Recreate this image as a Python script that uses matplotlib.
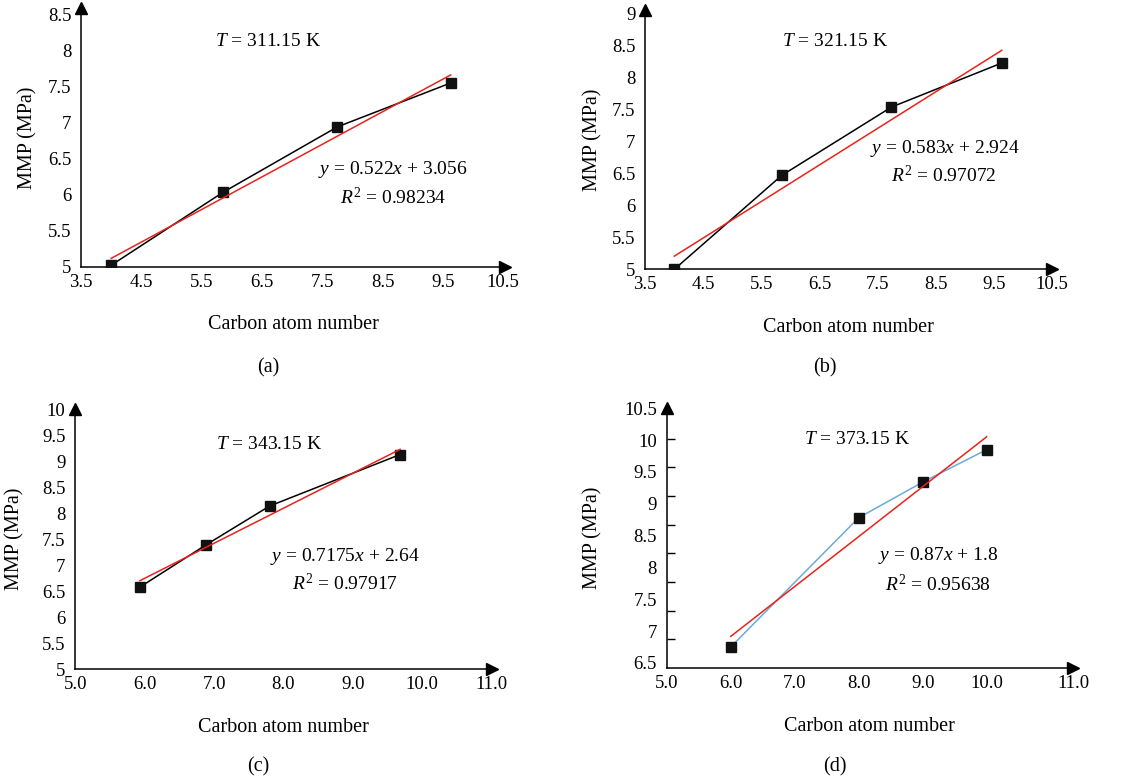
import numpy as np
import matplotlib
matplotlib.use("Agg")
import matplotlib.pyplot as plt

plt.rcParams['font.family'] = ['Liberation Serif', 'DejaVu Serif']
plt.rcParams['mathtext.fontset'] = 'custom'
plt.rcParams['mathtext.rm'] = 'Liberation Serif'
plt.rcParams['mathtext.it'] = 'Liberation Serif:italic'

# data
carbon_a = [4.0, 5.85, 7.75, 9.63]
mmp_a = [5.02, 6.03, 6.94, 7.55]
carbon_b = [4.0, 5.85, 7.74, 9.64]
mmp_b = [5.0, 6.47, 7.54, 8.23]
carbon_c = [5.93, 6.88, 7.80, 9.68]
mmp_c = [6.58, 7.39, 8.14, 9.13]
carbon_d = [6.0, 8.0, 9.0, 10.0]
mmp_d = [6.75, 8.78, 9.34, 9.85]

temps = ["311.15", "321.15", "343.15", "373.15"]
fit_eqs = ["0.522$x$ + 3.056", "0.583$x$ + 2.924", "0.7175$x$ + 2.64", "0.87$x$ + 1.8"]
r2_vals = ["0.98234", "0.97072", "0.97917", "0.95638"]
panel_tags = ["(a)", "(b)", "(c)", "(d)"]

xticks_ab = [3.5, 4.5, 5.5, 6.5, 7.5, 8.5, 9.5, 10.5]
xticks_cd = [5.0, 6.0, 7.0, 8.0, 9.0, 10.0, 11.0]
yticks_a = [5, 5.5, 6, 6.5, 7, 7.5, 8, 8.5]
yticks_b = [5, 5.5, 6, 6.5, 7, 7.5, 8, 8.5, 9]
yticks_c = [5, 5.5, 6, 6.5, 7, 7.5, 8, 8.5, 9, 9.5, 10]
yticks_d = [6.5, 7, 7.5, 8, 8.5, 9, 9.5, 10, 10.5]

W, H = 1143, 782
fig = plt.figure(figsize=(W / 100, H / 100), dpi=100)


def make_axes(left, top, right, bottom):
    return fig.add_axes([left / W, 1 - bottom / H, (right - left) / W, (bottom - top) / H])


panels = [
    dict(box=(81, 8, 505, 266.7), x=carbon_a, y=mmp_a, xlim=(3.5, 10.53), ylim=(5, 8.59),
         xt=xticks_ab, yt=yticks_a, line='black', T=(0.441, 0.869), eq=(0.736, 0.374), r2=(0.736, 0.269),
         ylab_x=-0.125, tag=(268, 368)),
    dict(box=(645.3, 10, 1051.7, 269.3), x=carbon_b, y=mmp_b, xlim=(3.5, 10.5), ylim=(5, 9.06),
         xt=xticks_ab, yt=yticks_b, line='black', T=(0.467, 0.878), eq=(0.737, 0.467), r2=(0.733, 0.36),
         ylab_x=-0.129, tag=(825, 368)),
    dict(box=(75.3, 409.3, 491.7, 669.3), x=carbon_c, y=mmp_c, xlim=(5, 10.95), ylim=(5, 9.97),
         xt=xticks_cd, yt=yticks_c, line='black', T=(0.466, 0.863), eq=(0.648, 0.433), r2=(0.648, 0.331),
         ylab_x=-0.145, tag=(258, 767)),
    dict(box=(666.7, 408.3, 1073, 668), x=carbon_d, y=mmp_d, xlim=(5, 11.35), ylim=(6.42, 10.47),
         xt=xticks_cd, yt=yticks_d, line='#6fa8dc', T=(0.469, 0.878), eq=(0.668, 0.432), r2=(0.668, 0.32),
         ylab_x=-0.181, tag=(835, 767)),
]

for i, p in enumerate(panels):
    ax = make_axes(*p['box'])
    x = np.array(p['x'])
    y = np.array(p['y'])

    # data line with square markers
    ax.plot(x, y, '-', color=p['line'], lw=1.1, zorder=3)
    ax.plot(x, y, 's', color='#111111', ms=6.5, zorder=4)

    # linear trend line
    k, b = np.polyfit(x, y, 1)
    xf = np.array([x[0], x[-1]])
    ax.plot(xf, k * xf + b, color='#e8231c', lw=1.1, zorder=5)

    ax.set_xlim(*p['xlim'])
    ax.set_ylim(*p['ylim'])

    # x ticks; panel (d) has its last label at the arrow tip
    xt = list(p['xt'])
    xlabels = ["%.1f" % v for v in xt]
    if i == 3:
        xt[-1] = p['xlim'][1]
    ax.set_xticks(xt)
    ax.set_xticklabels(xlabels)
    ax.set_yticks(p['yt'])
    ax.set_yticklabels(["%g" % v for v in p['yt']])
    ax.tick_params(axis='both', length=0, labelsize=13.5)
    ax.tick_params(axis='y', pad=7)
    ax.tick_params(axis='x', pad=5)

    if i == 3:
        lo, hi = p['ylim']
        ax.set_yticks(np.linspace(lo, hi, 10)[1:-1], minor=True)
        ax.tick_params(axis='y', which='minor', direction='in', length=6, width=1)

    for s in ['top', 'right']:
        ax.spines[s].set_visible(False)
    for s in ['left', 'bottom']:
        ax.spines[s].set_linewidth(1.1)

    # arrow heads on the axes
    ax.plot(1, 0, '>k', ms=8, transform=ax.transAxes, clip_on=False)
    ax.plot(0, 1, '^k', ms=8, transform=ax.transAxes, clip_on=False)

    ax.text(0.5, -0.225, "Carbon atom number", transform=ax.transAxes,
            ha='center', va='center', fontsize=14.5)
    ax.text(p['ylab_x'], 0.5, "MMP (MPa)", transform=ax.transAxes, rotation=90,
            ha='center', va='center', fontsize=14.5)

    ax.text(*p['T'], r"$T$ = %s K" % temps[i], transform=ax.transAxes,
            ha='center', va='center', fontsize=14)
    ax.text(*p['eq'], r"$y$ = " + fit_eqs[i], transform=ax.transAxes,
            ha='center', va='center', fontsize=14)
    ax.text(*p['r2'], r"$R^2$ = " + r2_vals[i], transform=ax.transAxes,
            ha='center', va='center', fontsize=14)

    fig.text(p['tag'][0] / W, 1 - p['tag'][1] / H, panel_tags[i],
             ha='center', va='center', fontsize=14.5)

fig.savefig("out.png", dpi=100)
